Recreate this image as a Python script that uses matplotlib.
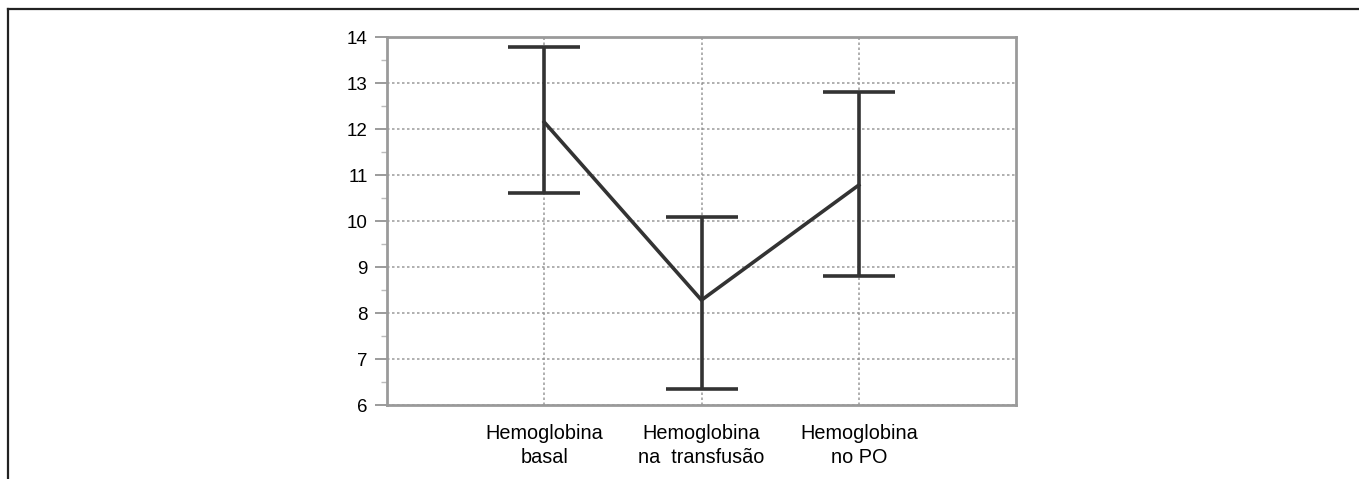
import matplotlib
matplotlib.use("Agg")
import matplotlib.pyplot as plt
from matplotlib.lines import Line2D
from matplotlib.ticker import MultipleLocator

plt.rcParams["font.family"] = ["Liberation Sans", "DejaVu Sans"]

# hemoglobin (g/dL): mean and upper/lower bar ends per moment
labels = ["Hemoglobina\nbasal", "Hemoglobina\nna  transfusão", "Hemoglobina\nno PO"]
means = [12.15, 8.28, 10.78]
upper = [13.78, 10.08, 12.80]
lower = [10.60, 6.35, 8.81]

LINE = "#333333"
GRID = "#8a8a8a"

fig = plt.figure(figsize=(13.59, 4.79), dpi=100)
ax = fig.add_axes([387 / 1359, 1 - 405 / 479, 629 / 1359, 368 / 479])

x = list(range(1, len(means) + 1))
err = [[m - lo for m, lo in zip(means, lower)], [hi - m for m, hi in zip(means, upper)]]
ax.errorbar(x, means, yerr=err, color=LINE, lw=2.6, elinewidth=2.6,
            capsize=26, capthick=2.6, zorder=3)

ax.set_xlim(0, 4)
ax.set_ylim(6, 14)
ax.set_xticks(x)
ax.set_xticklabels(labels, fontsize=14.3, linespacing=1.3)
ax.yaxis.set_major_locator(MultipleLocator(1))
ax.yaxis.set_minor_locator(MultipleLocator(0.5))
ax.tick_params(axis="y", which="major", length=9, width=1.2, color=GRID,
               labelsize=13.5, pad=5)
ax.tick_params(axis="y", which="minor", length=4, width=1, color="#bbbbbb")
ax.tick_params(axis="x", length=0, pad=14)
ax.grid(True, ls=(0, (1.5, 1.5)), lw=1.2, color=GRID, alpha=0.8, zorder=1)
for s in ax.spines.values():
    s.set_color("#9a9a9a")
    s.set_linewidth(2)

# page frame around the figure (top and left edges)
fig.add_artist(Line2D([8 / 1359, 8 / 1359], [0, 1 - 9 / 479], color="#222222", lw=1.6))
fig.add_artist(Line2D([8 / 1359, 1], [1 - 9 / 479, 1 - 9 / 479], color="#222222", lw=1.6))

fig.savefig("out.png", dpi=100)
